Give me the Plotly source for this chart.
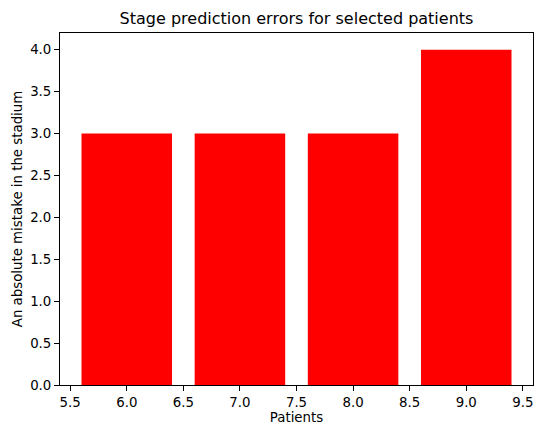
import plotly.graph_objects as go

patients = [6, 7, 8, 9]
errors = [3, 3, 3, 4]
title_text = "Stage prediction errors for selected patients"
x_label = "Patients"
y_label = "An absolute mistake in the stadium"

font_family = "DejaVu Sans"
fs = 13.33

fig = go.Figure(
    go.Bar(x=patients, y=errors, width=0.8, marker=dict(color="#ff0000", line=dict(width=0)))
)

axis_common = dict(
    showline=True, linecolor="black", linewidth=1, mirror=True,
    ticks="outside", ticklen=5, tickwidth=1, tickcolor="black",
    showgrid=False, zeroline=False, tickformat=".1f", dtick=0.5,
    tickfont=dict(family=font_family, size=fs, color="black"),
)

fig.update_layout(
    width=534, height=425,
    margin=dict(l=60, r=1, t=33, b=40),
    plot_bgcolor="white", paper_bgcolor="white",
    showlegend=False,
    title=dict(text=title_text, x=0.5, xref="paper", xanchor="center",
               y=1 - 18 / 425, yref="container", yanchor="middle",
               font=dict(family=font_family, size=16, color="black")),
    xaxis=dict(range=[5.41, 9.59], tick0=5.5,
               title=dict(text=x_label, standoff=6, font=dict(family=font_family, size=fs, color="black")),
               **axis_common),
    yaxis=dict(range=[0, 4.2], tick0=0,
               title=dict(text=y_label, standoff=4, font=dict(family=font_family, size=fs, color="black")),
               **axis_common),
)

fig.write_html("out.html")
